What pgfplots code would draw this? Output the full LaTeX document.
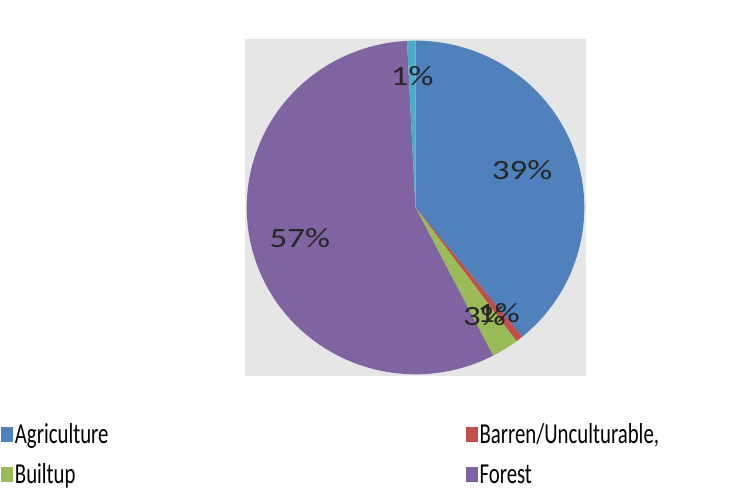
\documentclass[border=0pt]{standalone}
\usepackage{pgfplots}
\usepackage{pgfplotstable}
\usepackage{fontspec}
\pgfplotsset{compat=1.18}
\setmainfont{Carlito}
\newfontfamily\pctfont[FakeStretch=1.25]{Carlito}
\newfontfamily\legfont[FakeStretch=0.72]{Carlito}

\definecolor{agr}{HTML}{4F81BD}
\definecolor{bar}{HTML}{C0504D}
\definecolor{blt}{HTML}{9BBB59}
\definecolor{for}{HTML}{8064A2}
\definecolor{wat}{HTML}{4BACC6}
\definecolor{bggray}{HTML}{E6E6E6}

% land use shares (percent), slice colour, label distance from centre
\pgfplotstableread{
name                 value  color  lr
Agriculture          39.1   agr    0.67
Barren/Unculturable  0.7    bar    0.80
Builtup              2.6    blt    0.77
Forest               56.8   for    0.71
Water                0.8    wat    0.79
}\landuse

\begin{document}
\begin{tikzpicture}[x=1bp,y=1bp]
\useasboundingbox (0,0) rectangle (750,501);
\clip (0,0) rectangle (750,501);
\begin{axis}[
  at={(415.5bp,293.5bp)}, anchor=center,
  scale only axis, width=341bp, height=337bp,
  xmin=-1.01, xmax=1.01, ymin=-1.01, ymax=1.01,
  xtick=\empty, ytick=\empty,
  axis line style={draw=none},
  axis background/.style={fill=bggray},
  clip=false,
  legend columns=2,
  legend cell align=left,
  legend style={draw=none, fill=none,
    at={(rel axis cs:-0.725,-0.128)}, anchor=north west,
    font=\legfont\fontsize{29}{31}\selectfont,
    row sep=15bp,
    /tikz/every even column/.append style={column sep=355bp}},
  legend image code/.code={\fill[#1] (0bp,-7.5bp) rectangle (12bp,7.5bp);},
]
\pgfplotstablegetrowsof{\landuse}
\pgfmathtruncatemacro\lastrow{\pgfplotsretval-1}
% slices, clockwise from twelve o'clock
\def\cum{0}
\pgfplotsforeachungrouped \i in {0,...,\lastrow}{%
  \pgfplotstablegetelem{\i}{value}\of\landuse \let\v\pgfplotsretval
  \pgfplotstablegetelem{\i}{color}\of\landuse \let\c\pgfplotsretval
  \pgfplotstablegetelem{\i}{name}\of\landuse \let\n\pgfplotsretval
  \pgfmathsetmacro\a{3.6*\cum}
  \pgfmathsetmacro\b{3.6*(\cum+\v)}
  \edef\slice{\noexpand\addplot[fill=\c, draw=none, domain=\a:\b, samples=80,
      variable=\noexpand\t] ({sin(\noexpand\t)},{cos(\noexpand\t)}) -- (0,0) -- cycle;}
  \slice
  \ifnum\i<4
    \ifnum\i=1
      \addlegendentry{Barren/Unculturable,}
    \else
      \addlegendentryexpanded{\n}
    \fi
  \fi
  \pgfmathsetmacro\cum{\cum+\v}
}
% percentage labels, drawn last-to-first on top of all slices
\pgfplotsforeachungrouped \j in {0,...,\lastrow}{%
  \pgfmathtruncatemacro\i{\lastrow-\j}
  \def\cum{0}
  \pgfplotsforeachungrouped \k in {0,...,\lastrow}{%
    \ifnum\k<\i
      \pgfplotstablegetelem{\k}{value}\of\landuse
      \pgfmathsetmacro\cum{\cum+\pgfplotsretval}
    \fi
  }
  \pgfplotstablegetelem{\i}{value}\of\landuse \let\v\pgfplotsretval
  \pgfplotstablegetelem{\i}{lr}\of\landuse \let\lr\pgfplotsretval
  \pgfmathsetmacro\m{3.6*(\cum+\v/2)}
  \pgfmathsetmacro\lx{\lr*sin(\m)}
  \pgfmathsetmacro\ly{\lr*cos(\m)}
  \pgfmathtruncatemacro\pct{round(\v)}
  \edef\lab{\noexpand\node[font=\noexpand\pctfont\noexpand\fontsize{28}{30}\noexpand\selectfont,
      text=black!85] at (axis cs:\lx,\ly) {\pct\noexpand\%};}
  \lab
}
\end{axis}
\end{tikzpicture}
\end{document}
